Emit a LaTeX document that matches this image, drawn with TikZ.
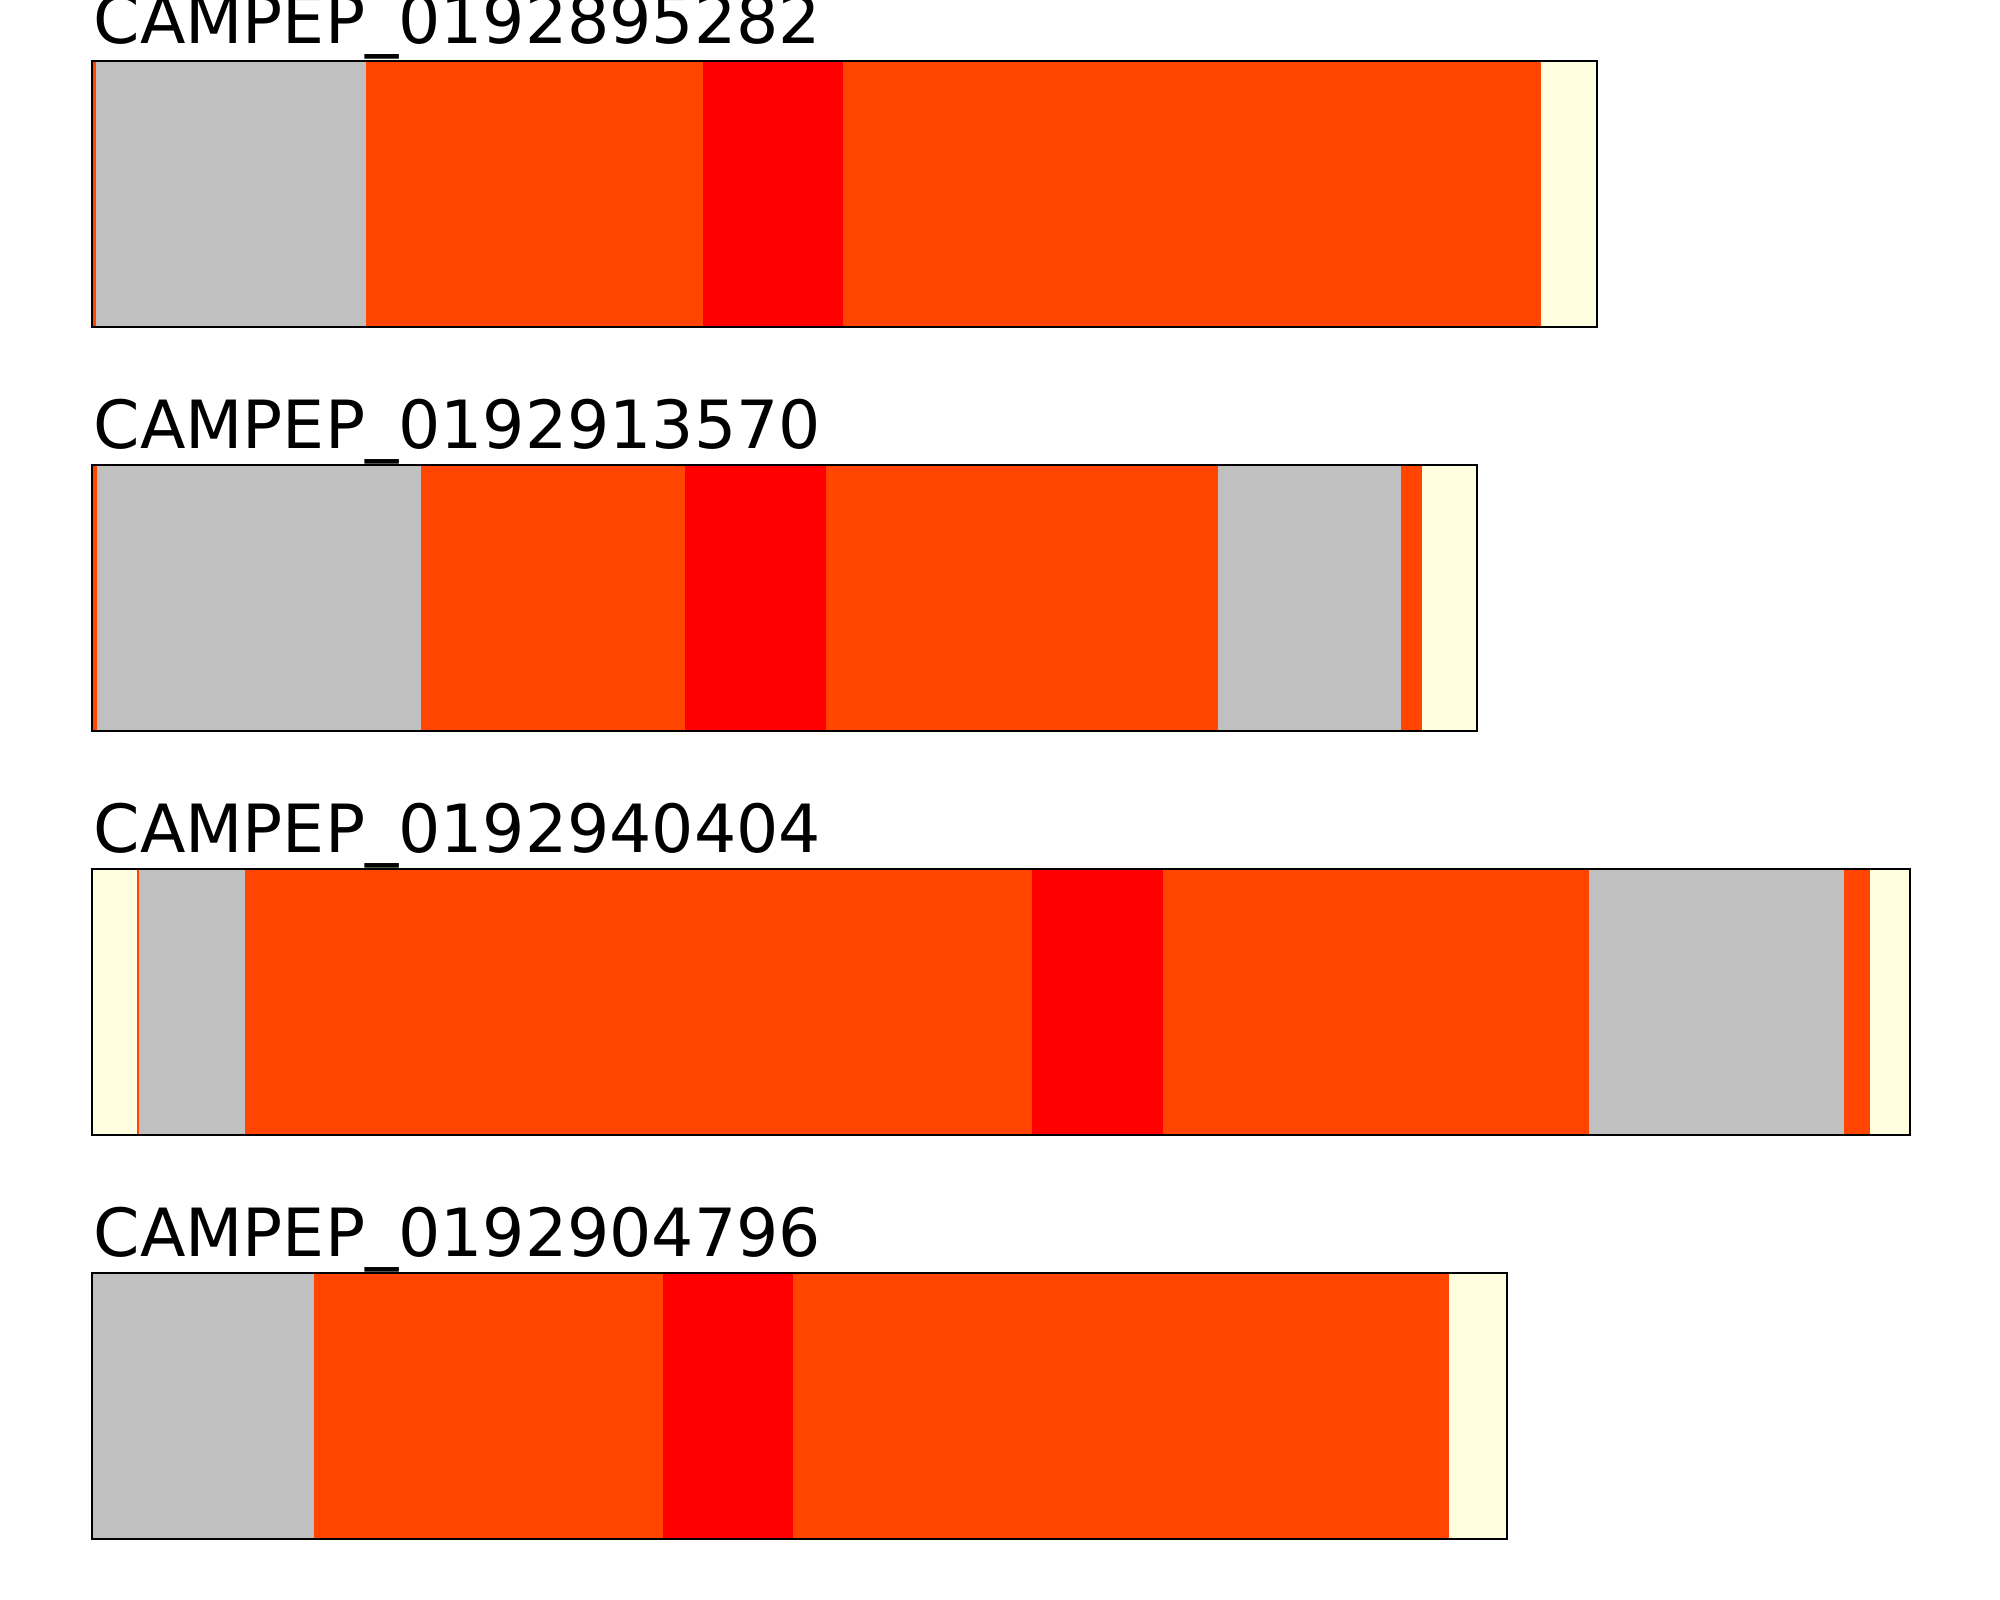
\documentclass[tikz,border=0pt]{standalone}
\usepackage{fontspec}
\setmainfont{DejaVu Sans}
\usepackage{tikz}
\usetikzlibrary{calc}

\definecolor{segorange}{HTML}{FF4500}
\definecolor{segred}{HTML}{FF0000}
\definecolor{seggray}{HTML}{C0C0C0}
\definecolor{segcream}{HTML}{FFFFE0}

\tikzset{
  barlabel/.style={anchor=base west,inner sep=0pt,font=\fontsize{18.9}{22}\selectfont},
  barframe/.style={draw=black,line width=0.75pt}
}

\begin{document}
\begin{tikzpicture}[x=0.01cm,y=-0.01cm]
    \useasboundingbox (0,0) rectangle (2000,1600);
    \fill[white] (0,0) rectangle (2000,1600);
    % first bar
    \coordinate (Top1) at (92,61);
    \coordinate (Bot1) at (1597,327);
    \fill[segorange] (92,61) rectangle (96,327);
    \fill[seggray] (96,61) rectangle (366,327);
    \fill[segorange] (366,61) rectangle (703,327);
    \fill[segred] (703,61) rectangle (843,327);
    \fill[segorange] (843,61) rectangle (1541,327);
    \fill[segcream] (1541,61) rectangle (1597,327);
    \draw[barframe] (Top1) rectangle (Bot1);
    \node[barlabel] (lab1) at (93,44) {CAMPEP\_0192895282};
    % second bar
    \coordinate (Top2) at (92,465);
    \coordinate (Bot2) at (1477,731);
    \fill[segorange] (92,465) rectangle (96.5,731);
    \fill[seggray] (96.5,465) rectangle (421,731);
    \fill[segorange] (421,465) rectangle (685,731);
    \fill[segred] (685,465) rectangle (826,731);
    \fill[segorange] (826,465) rectangle (1218,731);
    \fill[seggray] (1218,465) rectangle (1401,731);
    \fill[segorange] (1401,465) rectangle (1422,731);
    \fill[segcream] (1422,465) rectangle (1477,731);
    \draw[barframe] (Top2) rectangle (Bot2);
    \node[barlabel] (lab2) at (93,448) {CAMPEP\_0192913570};
    % third bar
    \coordinate (Top3) at (92,869);
    \coordinate (Bot3) at (1910,1135);
    \fill[segcream] (92,869) rectangle (137,1135);
    \fill[segorange] (137,869) rectangle (139,1135);
    \fill[seggray] (139,869) rectangle (245,1135);
    \fill[segorange] (245,869) rectangle (1032,1135);
    \fill[segred] (1032,869) rectangle (1163,1135);
    \fill[segorange] (1163,869) rectangle (1589,1135);
    \fill[seggray] (1589,869) rectangle (1844,1135);
    \fill[segorange] (1844,869) rectangle (1870,1135);
    \fill[segcream] (1870,869) rectangle (1910,1135);
    \draw[barframe] (Top3) rectangle (Bot3);
    \node[barlabel] (lab3) at (93,852) {CAMPEP\_0192940404};
    % fourth bar
    \coordinate (Top4) at (92,1273);
    \coordinate (Bot4) at (1507,1539);
    \fill[seggray] (92,1273) rectangle (314,1539);
    \fill[segorange] (314,1273) rectangle (663,1539);
    \fill[segred] (663,1273) rectangle (793,1539);
    \fill[segorange] (793,1273) rectangle (1449,1539);
    \fill[segcream] (1449,1273) rectangle (1507,1539);
    \draw[barframe] (Top4) rectangle (Bot4);
    \node[barlabel] (lab4) at (93,1256) {CAMPEP\_0192904796};
  \end{tikzpicture}
\end{document}
